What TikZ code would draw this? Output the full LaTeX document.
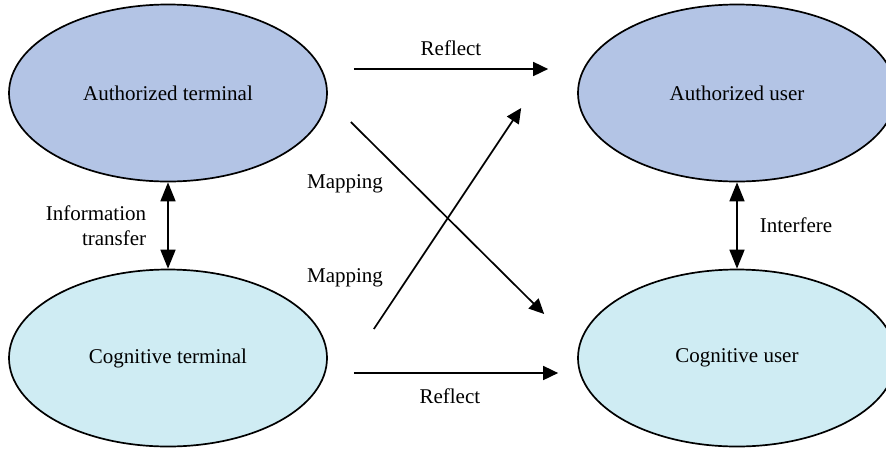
\documentclass[tikz,border=0pt]{standalone}
\usepackage{fontspec}
\setmainfont{Liberation Serif}
\usetikzlibrary{shapes,arrows.meta,positioning,calc}
\definecolor{authblue}{HTML}{B3C4E5}
\definecolor{cogblue}{HTML}{CFECF3}

\begin{document}
\begin{tikzpicture}[x=1pt, y=-1pt,
    font=\fontsize{21}{25}\selectfont,
    oval/.style={draw, ellipse, line width=1.7pt, minimum width=318pt, minimum height=177pt},
    arr/.style={line width=1.7pt, -{Triangle[length=15pt,width=14pt]}},
    darr/.style={line width=1.7pt, {Triangle[length=19pt,width=15pt]}-{Triangle[length=19pt,width=15pt]}},
    lab/.style={inner sep=2pt}]
    \useasboundingbox (0,0) rectangle (886,448);
    \clip (0,0) rectangle (886,448);

    % Terminals (left) and users (right)
    \node [oval, fill=authblue] (aterm) at (168,93) {Authorized terminal};
    \node [oval, fill=cogblue] (cterm) at (168,358) {Cognitive terminal};
    \node [oval, fill=authblue] (auser) at (737,93) {Authorized user};
    \node [oval, fill=cogblue] (cuser) at (737,358) {Cognitive user};

    % Reflect
    \draw [arr] ([shift={(26,-24)}]aterm.east) -- node [lab, above=10pt] {Reflect} ([shift={(-29,-24)}]auser.west);
    \draw [arr] ([shift={(26,15)}]cterm.east) -- node [lab, below=13pt, pos=0.47] {Reflect} ([shift={(-19,15)}]cuser.west);

    % Mapping
    \draw [arr] ([shift={(23,29)}]aterm.east) -- ([shift={(-33,-44)}]cuser.west);
    \draw [arr] ([shift={(46,-29)}]cterm.east) -- ([shift={(-56,15)}]auser.west);
    \node [lab] (map1) at (345,184) {Mapping};
    \node [lab] (map2) at (345,278) {Mapping};

    % Vertical links
    \draw [darr] (aterm.south) -- node [lab, left=19pt, align=right] {Information\\transfer} (cterm.north);
    \draw [darr] (auser.south) -- node [lab, right=20pt] {Interfere} (cuser.north);
\end{tikzpicture}
\end{document}
